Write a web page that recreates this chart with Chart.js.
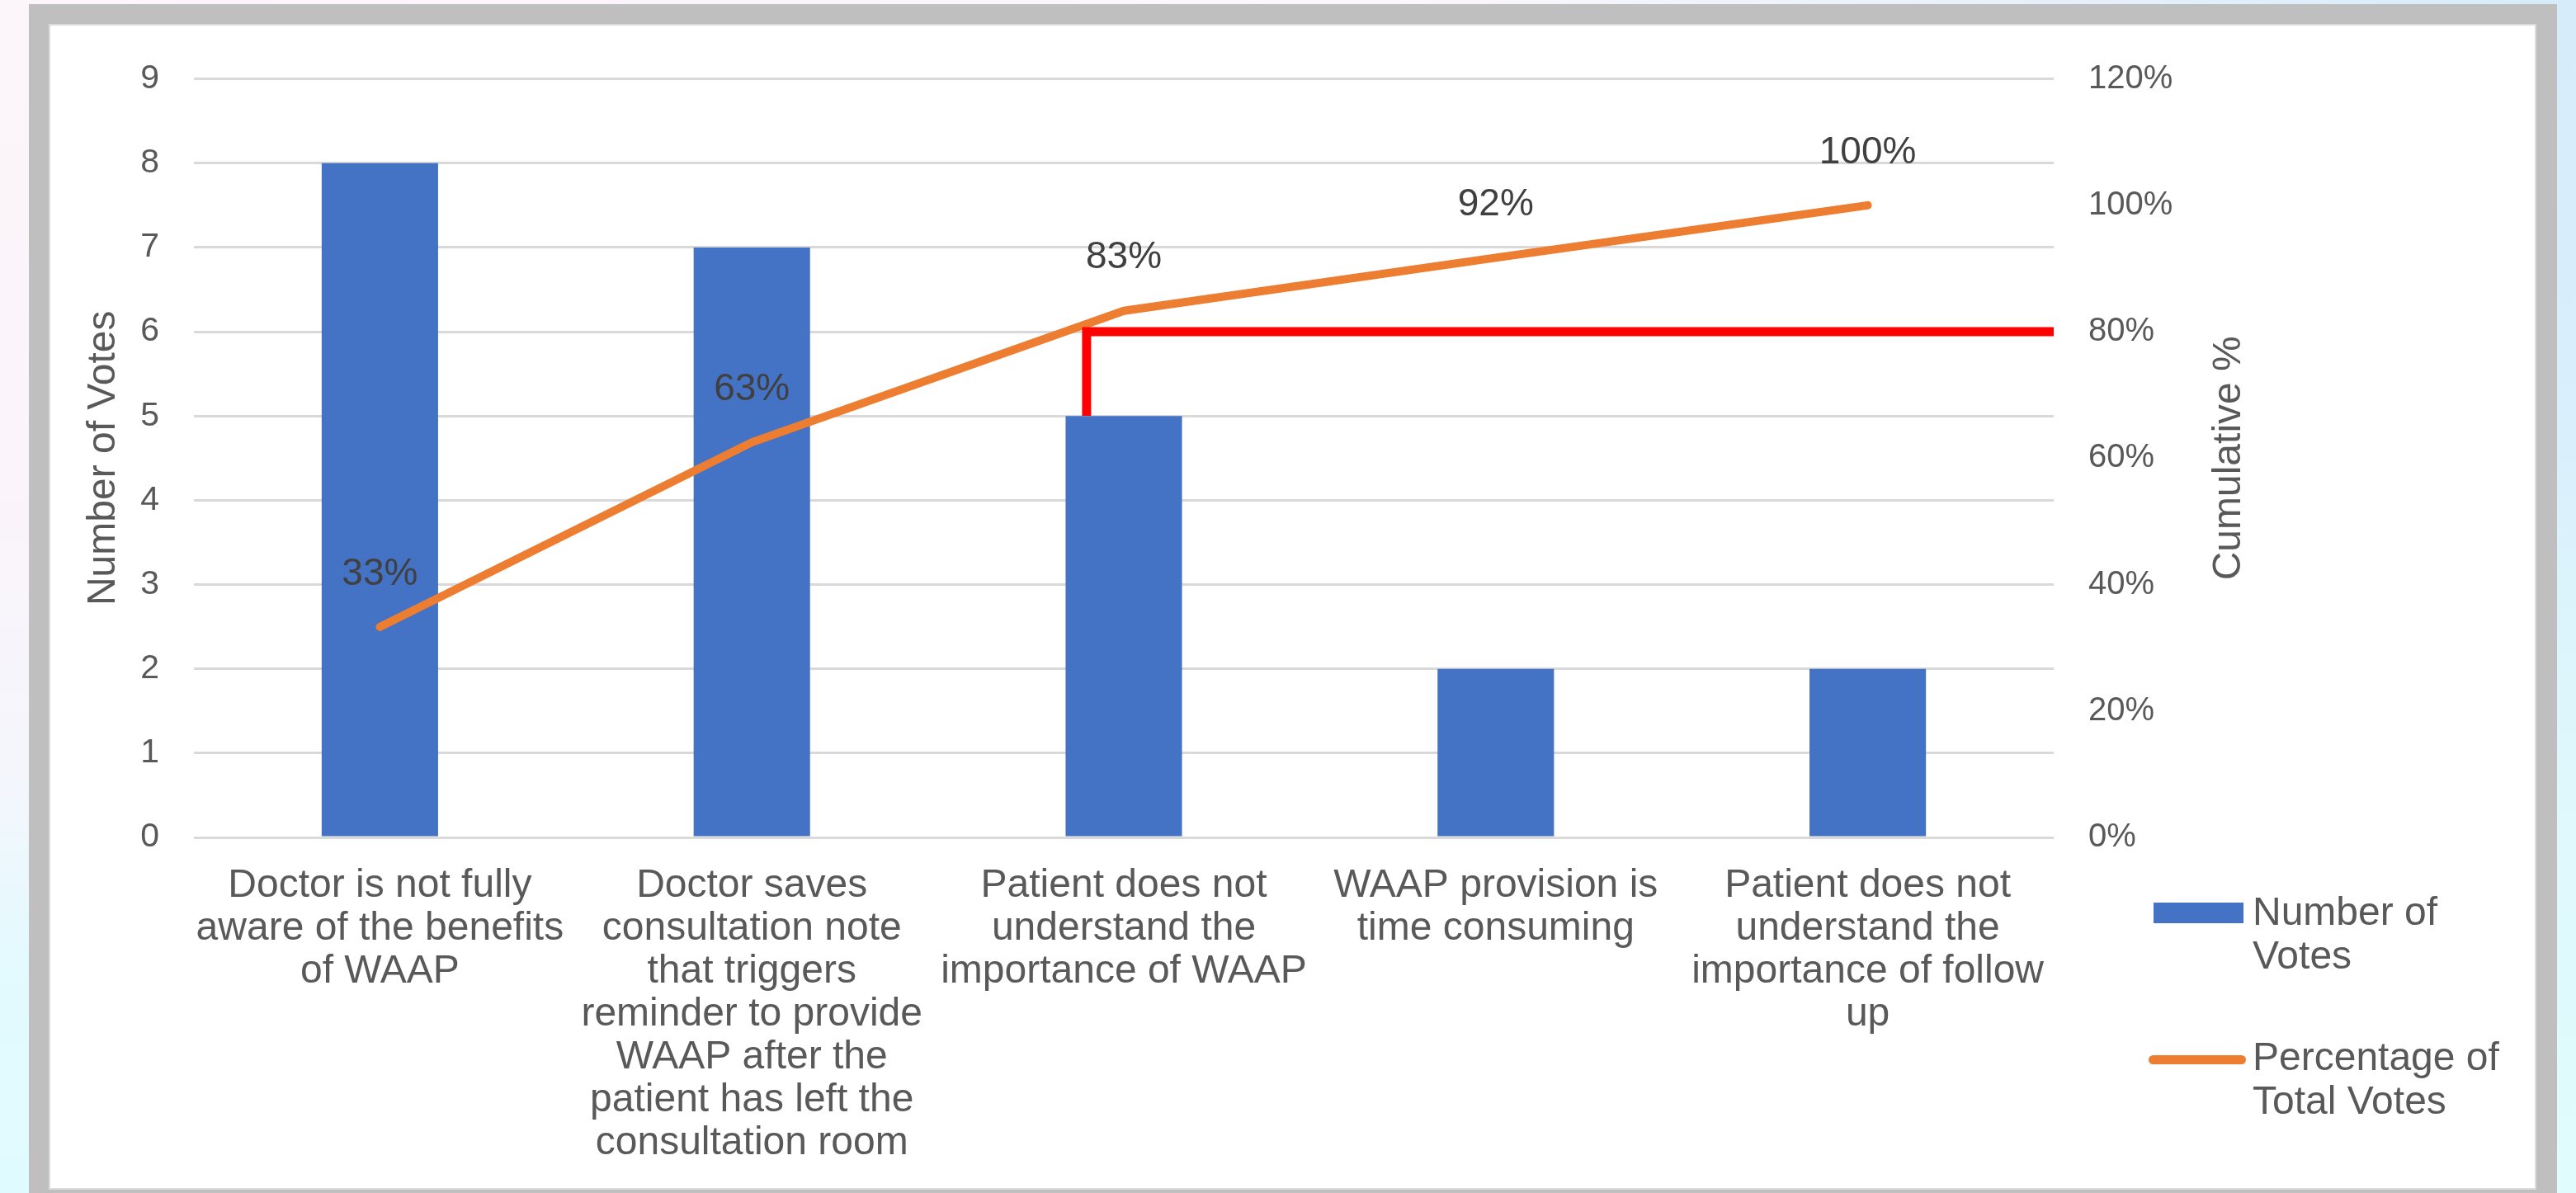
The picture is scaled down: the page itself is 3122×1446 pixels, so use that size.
<!DOCTYPE html>
<html>
<head>
<meta charset="utf-8">
<script src="https://cdn.jsdelivr.net/npm/chart.js@4.4.1/dist/chart.umd.min.js"></script>
<style>
html,body{margin:0;padding:0;width:3122px;height:1446px;overflow:hidden;font-family:"Liberation Sans",Arial,sans-serif;}
body{position:relative;background:#E6F5FC;}
#leftbg{position:absolute;left:0;top:0;width:40px;height:1446px;background:linear-gradient(180deg,#FCF5FA 0%,#FBF4FA 40%,#F4F6FC 65%,#E2FAFE 82%,#E0FBFF 100%);}
#rightbg{position:absolute;right:0;top:0;width:40px;height:1446px;background:linear-gradient(180deg,#D6ECFA 0%,#D8EEFB 30%,#DFF9FC 70%,#E0FCFC 100%);}
#topbg{position:absolute;left:0;top:0;width:3122px;height:6px;background:linear-gradient(90deg,#FCF5FA 0%,#FAF6FB 55%,#D6ECFA 100%);}
#frame{position:absolute;left:35px;top:5px;width:3064px;height:1460px;background:#BFBFBF;}
#white{position:absolute;left:59px;top:29px;width:3015px;height:1413px;background:#fff;box-shadow:inset 0 0 0 2px #DCDCDC;}
#chart{position:absolute;left:59px;top:29px;}
.legsw{position:absolute;}
.legtxt{position:absolute;width:310px;font-size:48px;line-height:53px;color:#595959;}
</style>
</head>
<body>
<div id="leftbg"></div><div id="rightbg"></div><div id="topbg"></div>
<div id="frame"></div>
<div id="white"></div>
<canvas id="chart" width="3015" height="1413"></canvas>
<div id="legend"></div>
<script>
// ---- data ----
const categories = [
  ["Doctor is not fully", "aware of the benefits", "of WAAP"],
  ["Doctor saves", "consultation note", "that triggers", "reminder to provide", "WAAP after the", "patient has left the", "consultation room"],
  ["Patient does not", "understand the", "importance of WAAP"],
  ["WAAP provision is", "time consuming"],
  ["Patient does not", "understand the", "importance of follow", "up"]
];
const seriesNames = ["Number of Votes", "Percentage of Total Votes"];
const votes = [8, 7, 5, 2, 2];
const cumulativePct = [33.3, 62.5, 83.3, 91.7, 100];
const cumulativeLabels = ["33%", "63%", "83%", "92%", "100%"];
const thresholdX = [1.9, 1.9, 4.5];
const thresholdY = [66.7, 80, 80];
const leftAxisTitle = "Number of Votes";
const rightAxisTitle = "Cumulative %";

const FONT = '"Liberation Sans", Arial, sans-serif';
const TXT = '#595959';
Chart.defaults.font.family = FONT;

const overlay = {
  id: 'overlay',
  afterDatasetsDraw(chart) {
    const ctx = chart.ctx;
    const meta = chart.getDatasetMeta(1);
    ctx.save();
    ctx.font = '46px ' + FONT;
    ctx.fillStyle = '#404040';
    ctx.textAlign = 'center';
    ctx.textBaseline = 'middle';
    meta.data.forEach((p, i) => ctx.fillText(cumulativeLabels[i], p.x, p.y - 64));
    const ca = chart.chartArea;
    const s = chart.scales.y1;
    ctx.translate(s.left + 213, (ca.top + ca.bottom) / 2);
    ctx.rotate(-Math.PI / 2);
    ctx.font = '48px ' + FONT;
    ctx.fillStyle = TXT;
    ctx.fillText(rightAxisTitle, 0, 0);
    ctx.restore();
  }
};

const chart = new Chart(document.getElementById('chart'), {
  type: 'bar',
  data: {
    labels: categories,
    datasets: [
      {
        type: 'bar', label: seriesNames[0], data: votes,
        backgroundColor: '#4472C4', yAxisID: 'y', xAxisID: 'x',
        barPercentage: 0.313, categoryPercentage: 1.0, grouped: false, order: 3
      },
      {
        type: 'line', label: seriesNames[1], data: cumulativePct,
        borderColor: '#ED7D31', backgroundColor: '#ED7D31', borderWidth: 10,
        borderCapStyle: 'round', borderJoinStyle: 'round',
        pointRadius: 0, tension: 0, yAxisID: 'y1', xAxisID: 'x', order: 2
      },
      {
        type: 'line', label: 'threshold',
        data: thresholdX.map((x, i) => ({x: x, y: thresholdY[i]})),
        borderColor: '#FF0000', borderWidth: 11, borderCapStyle: 'butt', borderJoinStyle: 'miter',
        pointRadius: 0, tension: 0, yAxisID: 'y1', xAxisID: 'xr', order: 1
      }
    ]
  },
  options: {
    responsive: false,
    animation: false,
    devicePixelRatio: 1,
    layout: {padding: {left: 0, top: 59, right: 335, bottom: 0}},
    plugins: {legend: {display: false}, tooltip: {enabled: false}},
    scales: {
      x: {
        type: 'category',
        grid: {display: false},
        border: {display: false},
        ticks: {
          color: TXT, font: {size: 48, lineHeight: 1.083}, padding: 25,
          autoSkip: false, maxRotation: 0, minRotation: 0
        },
        afterFit(s) { s.height = 427; }
      },
      xr: {type: 'linear', display: false, offset: false, min: -0.5, max: 4.5, grid: {offset: false}},
      y: {
        position: 'left', min: 0, max: 9,
        ticks: {stepSize: 1, color: TXT, font: {size: 41}, padding: 42},
        grid: {color: '#D9D9D9', lineWidth: 3, drawTicks: false},
        border: {display: false},
        title: {display: true, text: leftAxisTitle, color: TXT, font: {size: 48}, padding: {top: 38, bottom: 0}},
        afterFit(s) { s.width = 176; }
      },
      y1: {
        position: 'right', min: 0, max: 120,
        ticks: {stepSize: 20, color: TXT, font: {size: 40}, padding: 42, callback: v => v + '%'},
        grid: {drawOnChartArea: false, drawTicks: false},
        border: {display: false},
        afterFit(s) { s.width = 250; }
      }
    }
  },
  plugins: [overlay]
});

// HTML legend built from the chart's datasets
const legend = document.getElementById('legend');
const legItems = [
  {ds: chart.data.datasets[0], sw: 'left:2610px;top:1094px;width:109px;height:25px;', txtTop: 1078},
  {ds: chart.data.datasets[1], sw: 'left:2604px;top:1279px;width:118px;height:11px;border-radius:6px;', txtTop: 1254}
];
legItems.forEach(it => {
  const sw = document.createElement('div');
  sw.className = 'legsw';
  sw.setAttribute('style', it.sw + 'background:' + (it.ds.type === 'bar' ? it.ds.backgroundColor : it.ds.borderColor));
  legend.appendChild(sw);
  const t = document.createElement('div');
  t.className = 'legtxt';
  t.style.left = '2730px';
  t.style.top = it.txtTop + 'px';
  t.textContent = it.ds.label;
  legend.appendChild(t);
});
</script>
</body>
</html>
